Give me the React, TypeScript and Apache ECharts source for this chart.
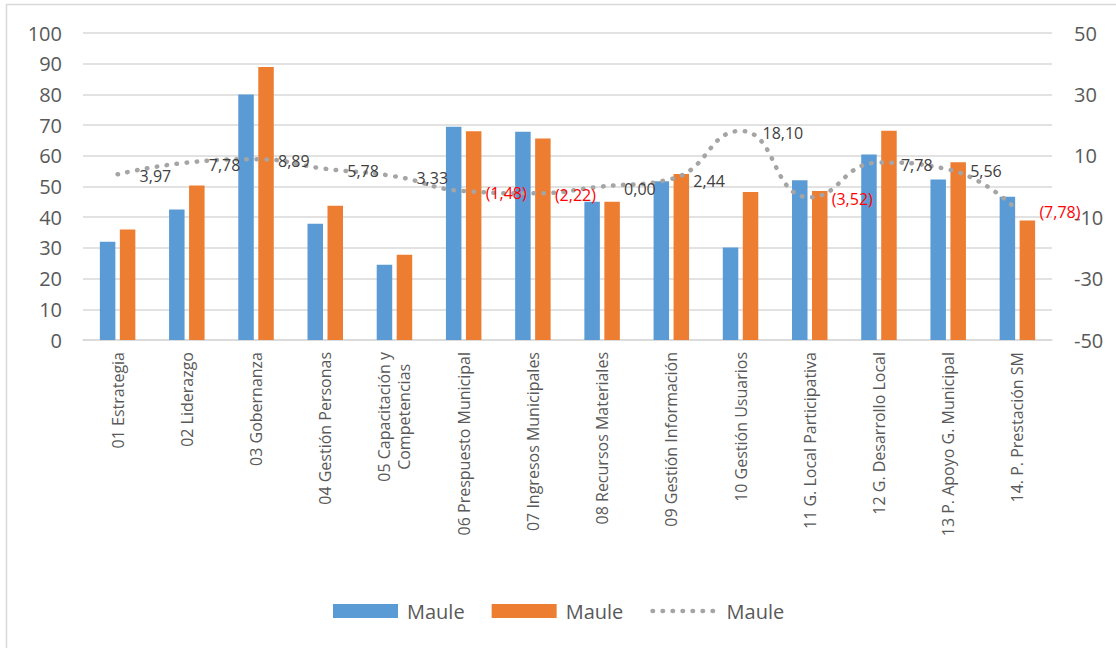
import React, { useEffect, useRef } from "react";
import * as echarts from "echarts";

const categories = [
  "01 Estrategia",
  "02 Liderazgo",
  "03 Gobernanza",
  "04 Gestión Personas",
  "05 Capacitación y\nCompetencias",
  "06 Prespuesto Municipal",
  "07 Ingresos Municipales",
  "08 Recursos Materiales",
  "09 Gestión Información",
  "10 Gestión Usuarios",
  "11 G. Local Participativa",
  "12 G. Desarrollo Local",
  "13 P. Apoyo G. Municipal",
  "14. P. Prestación SM",
];

const blueValues = [32.0, 42.5, 80.0, 37.9, 24.5, 69.5, 67.8, 45.0, 51.7, 30.1, 52.0, 60.4, 52.3, 46.7];
const orangeValues = [36.0, 50.3, 88.9, 43.7, 27.8, 68.0, 65.6, 45.0, 54.1, 48.2, 48.5, 68.2, 57.9, 38.9];
const diffValues = [3.97, 7.78, 8.89, 5.78, 3.33, -1.48, -2.22, 0.0, 2.44, 18.1, -3.52, 7.78, 5.56, -7.78];

const legendLabel = "Maule";
const seriesKeys = ["s1", "s2", "s3"];

const FONT = "'Open Sans', 'Noto Sans', sans-serif";
const TEXT = "#595959";
const GRID = "#d9d9d9";
const DOT_LINE = { color: "#a5a5a5", width: 4.5, type: [0.5, 9.5], cap: "round" };

function fmt(v: number): string {
  const s = Math.abs(v).toFixed(2).replace(".", ",");
  return v < 0 ? `(${s})` : s;
}

export default function App() {
  const ref = useRef<HTMLDivElement>(null);

  useEffect(() => {
    if (!ref.current) return;
    const chart = echarts.init(ref.current, null, { renderer: "svg" });
    const option: any = {
      animation: false,
      backgroundColor: "#ffffff",
      graphic: [
        {
          type: "rect",
          shape: { x: 6.5, y: 4.5, width: 1300, height: 800 },
          style: { fill: "none", stroke: GRID, lineWidth: 1.5 },
          silent: true,
          z: -10,
        },
      ],
      grid: { left: 83, right: 64, top: 33, bottom: 308, containLabel: false },
      legend: {
        left: 328,
        top: 596,
        itemWidth: 65,
        itemHeight: 14,
        itemGap: 27,
        formatter: () => legendLabel,
        textStyle: { fontSize: 20, color: TEXT, fontFamily: FONT, padding: [0, 0, 0, 4] },
        data: [
          { name: seriesKeys[0], icon: "rect" },
          { name: seriesKeys[1], icon: "rect" },
          { name: seriesKeys[2], lineStyle: DOT_LINE },
        ],
      },
      xAxis: {
        type: "category",
        data: categories,
        axisLine: { show: true, lineStyle: { color: GRID, width: 1.5 } },
        axisTick: { show: false },
        axisLabel: {
          interval: 0,
          rotate: 90,
          margin: 12,
          fontSize: 16,
          fontFamily: FONT,
          color: TEXT,
          formatter: (v: string) =>
            v
              .split("\n")
              .map((l) => `{c|${l}}`)
              .join("\n"),
          rich: {
            c: { align: "center", fontSize: 16, fontFamily: FONT, color: TEXT, lineHeight: 20 },
          },
        },
      },
      yAxis: [
        {
          type: "value",
          min: 0,
          max: 100,
          interval: 10,
          axisLine: { show: false },
          axisTick: { show: false },
          axisLabel: { fontSize: 20, color: TEXT, fontFamily: FONT, margin: 21 },
          splitLine: { show: true, lineStyle: { color: GRID, width: 1.5 } },
        },
        {
          type: "value",
          min: -50,
          max: 50,
          interval: 20,
          axisLine: { show: false },
          axisTick: { show: false },
          axisLabel: { fontSize: 20, color: TEXT, fontFamily: FONT, margin: 22 },
          splitLine: { show: false },
        },
      ],
      series: [
        {
          name: seriesKeys[0],
          type: "bar",
          data: blueValues,
          barWidth: 15.5,
          barGap: "29%",
          itemStyle: { color: "#5b9bd5" },
          z: 2,
        },
        {
          name: seriesKeys[1],
          type: "bar",
          data: orangeValues,
          barWidth: 15.5,
          barGap: "29%",
          itemStyle: { color: "#ed7d31" },
          z: 2,
        },
        {
          name: seriesKeys[2],
          type: "line",
          yAxisIndex: 1,
          smooth: true,
          symbol: "circle",
          symbolSize: 2,
          showSymbol: true,
          itemStyle: { color: "rgba(0,0,0,0)" },
          lineStyle: DOT_LINE,
          z: 5,
          data: diffValues.map((v) => ({
            value: v,
            label: { color: v < 0 ? "#ff0000" : "#404040" },
          })),
          label: {
            show: true,
            position: "right",
            distance: 21,
            offset: [0, 2],
            fontSize: 16,
            fontFamily: FONT,
            formatter: (p: any) => fmt(p.value),
          },
        },
      ],
    };
    chart.setOption(option);
    return () => chart.dispose();
  }, []);

  return (
    <div
      ref={ref}
      style={{ position: "fixed", left: 0, top: 0, width: 1116, height: 648, background: "#ffffff" }}
    />
  );
}
